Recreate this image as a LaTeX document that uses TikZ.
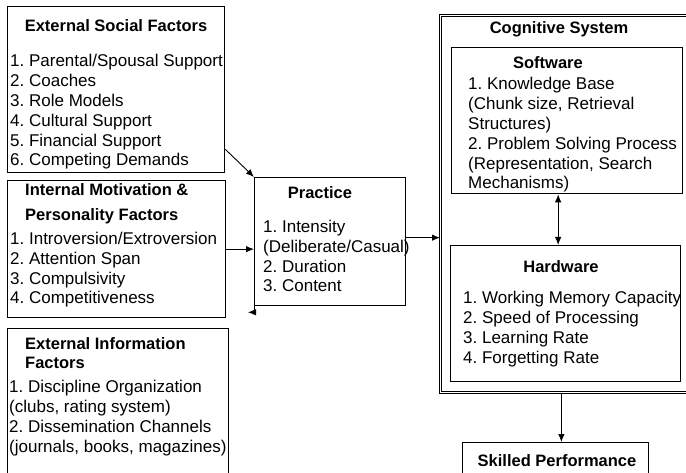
\documentclass[tikz,border=0pt]{standalone}
\usepackage{fontspec}
\setmainfont{Liberation Sans}
\usetikzlibrary{arrows.meta,calc}
\frenchspacing

\tikzset{
	arr/.tip={Latex[length=8pt,width=6.5pt]},
	box/.style={draw,line width=1.3pt,anchor=north west,inner sep=0pt},
	head/.style={font=\bfseries\fontsize{16.5}{19.8}\selectfont,inner sep=0pt,anchor=base},
	items/.style={font=\fontsize{17}{19.8}\selectfont,align=left,inner sep=0pt,anchor=base west},
	conn/.style={line width=0.9pt,-arr}
}

\begin{document}
\begin{tikzpicture}[x=1pt,y=1pt]
	\useasboundingbox (0,0) rectangle (686,-473);
	\clip (0,0) rectangle (686,-473);

	% left column (list nodes sit on the baseline of their last line)
	\node[box,minimum width=217,minimum height=166] (esf) at (7,-6) {};
	\node[head] (esfhead) at (116,-32) {External Social Factors};
	\node[items] (esflist) at (10,-166) {1. Parental/Spousal Support\\2. Coaches\\3. Role Models\\4. Cultural Support\\5. Financial Support\\6. Competing Demands};

	\node[box,minimum width=218,minimum height=137] (im) at (7,-180) {};
	\node[head,anchor=base west,align=left] (imhead) at (25,-221) {Internal Motivation \&\\[6pt]Personality Factors};
	\node[items] (imlist) at (10,-304) {1. Introversion/Extroversion\\2. Attention Span\\3. Compulsivity\\4. Competitiveness};

	\node[box,minimum width=221,minimum height=160] (eif) at (7,-328) {};
	\node[head,anchor=base west,align=left] (eifhead) at (25,-368) {External Information\\[-1.5pt]Factors};
	\node[items] (eiflist) at (9,-452) {1. Discipline Organization\\(clubs, rating system)\\2. Dissemination Channels\\(journals, books, magazines)};

	% practice
	\node[box,minimum width=151,minimum height=128] (prac) at (254,-177) {};
	\node[head] (prachead) at (320,-199) {Practice};
	\node[items] (praclist) at (263,-292) {1. Intensity\\(Deliberate/Casual)\\2. Duration\\3. Content};

	% cognitive system, open to the right
	\node[box,line width=0.8pt,double,double distance=1.6pt,minimum width=262,minimum height=377] (cog) at (440,-15) {};
	\node[head] (coghead) at (559,-34) {Cognitive System};

	\node[box,minimum width=231,minimum height=146] (sw) at (451,-47) {};
	\node[head] (swhead) at (548,-69) {Software};
	\node[items] (swlist) at (468,-189) {1. Knowledge Base\\(Chunk size, Retrieval\\Structures)\\2. Problem Solving Process\\(Representation, Search\\Mechanisms)};

	\node[box,minimum width=230,minimum height=136] (hw) at (450,-245) {};
	\node[head] (hwhead) at (561,-273) {Hardware};
	\node[items] (hwlist) at (463,-363) {1. Working Memory Capacity\\2. Speed of Processing\\3. Learning Rate\\4. Forgetting Rate};

	\node[box,minimum width=186,minimum height=50] (skill) at (462,-442) {};
	\node[head] (skillhead) at (557,-466) {Skilled Performance};

	% arrows
	\coordinate (esfout) at ($(esf.south east)+(0,24)$);
	\draw[conn] (esfout) -- (prac.north west);
	\draw[conn] (im.east) -- (im.east -| prac.west);
	\coordinate (pracout) at ($(prac.east)+(0,4)$);
	\draw[conn] (pracout) -- (pracout -| cog.west);
	\coordinate (fb) at ($(prac.south west)+(-6,-6)$);
	\draw[conn] (prac.south west) |- (fb);
	\coordinate (swout) at ($(sw.south)+(-9,0)$);
	\draw[conn,arr-arr] (swout) -- (swout |- hw.north);
	\coordinate (cogout) at ($(cog.south)+(-10,0)$);
	\draw[conn] (cogout) -- (cogout |- skill.north);
\end{tikzpicture}
\end{document}
